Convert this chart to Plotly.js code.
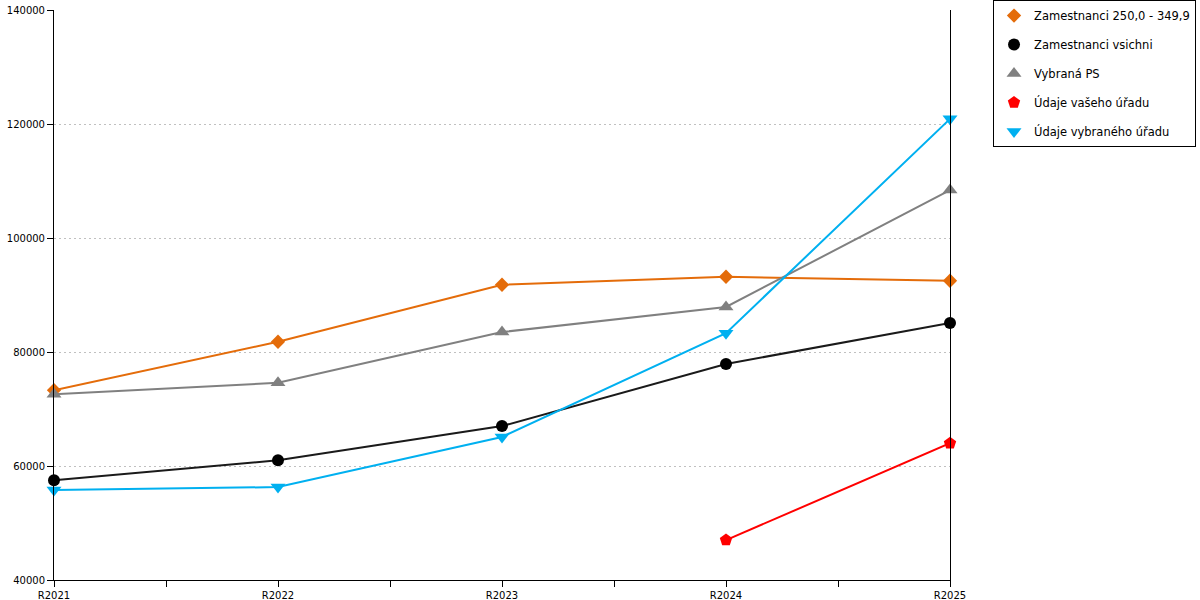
<!DOCTYPE html>
<html>
<head>
<meta charset="utf-8">
<script src="https://cdn.plot.ly/plotly-3.0.1.min.js"></script>
<style>
  html, body { margin: 0; padding: 0; background: #ffffff; }
  #chart { width: 1200px; height: 600px; }
</style>
</head>
<body>
<div id="chart"></div>
<script>
// Chart data
const years = ['R2021', 'R2022', 'R2023', 'R2024', 'R2025'];
const zamestnanci250 = [73300, 81800, 91800, 93200, 92500];
const zamestnanciVsichni = [57500, 61000, 67000, 77900, 85100];
const vybranaPS = [72600, 74600, 83500, 87900, 108400];
const udajeVasehoUradu = [null, null, null, 47000, 64000];
const udajeVybranehoUradu = [55800, 56300, 65100, 83300, 120900];

const yTicks = [40000, 60000, 80000, 100000, 120000, 140000];
const yTickText = ['40000', '60000', '80000', '100000', '120000', '140000'];

const seriesList = [
    { name: 'Zamestnanci 250,0 - 349,9', y: zamestnanci250, color: '#e46c0a', symbol: 'diamond', size: 11 },
    { name: 'Zamestnanci vsichni', y: zamestnanciVsichni, color: '#000000', lineColor: '#1a1a1a', symbol: 'circle', size: 12 },
    { name: 'Vybraná PS', y: vybranaPS, color: '#808080', symbol: 'triangle-up', size: 13 },
    { name: 'Údaje vašeho úřadu', y: udajeVasehoUradu, color: '#ff0000', symbol: 'pentagon', size: 13 },
    { name: 'Údaje vybraného úřadu', y: udajeVybranehoUradu, color: '#00b0f0', symbol: 'triangle-down', size: 13 }
];

const xIdx = years.map((_, i) => i);

// Lines without legend, then marker-only traces for the legend
const traces = [];
seriesList.forEach((s, i) => {
    traces.push({
        x: xIdx, y: s.y, type: 'scatter', mode: 'lines',
        line: { color: s.lineColor || s.color, width: 2 },
        showlegend: false, hoverinfo: 'skip', legendgroup: 'g' + i
    });
});
seriesList.forEach((s, i) => {
    traces.push({
        x: xIdx, y: s.y, type: 'scatter', mode: 'markers', name: s.name,
        marker: { color: s.color, symbol: s.symbol, size: s.size },
        cliponaxis: false,
        legendgroup: 'g' + i
    });
});

// ticks every half category, labels only on categories
const xTickVals = [];
const xTickText = [];
years.forEach((yr, i) => {
    xTickVals.push(i);
    xTickText.push(yr);
    if (i < years.length - 1) {
        xTickVals.push(i + 0.5);
        xTickText.push('');
    }
});

const layout = {
    width: 1200,
    height: 600,
    paper_bgcolor: '#ffffff',
    plot_bgcolor: '#ffffff',
    font: { family: 'DejaVu Sans, sans-serif', size: 10, color: '#000000' },
    margin: { l: 54, r: 250, t: 10, b: 20, pad: 0, autoexpand: false },
    xaxis: {
        range: [0, years.length - 1],
        tickmode: 'array',
        tickvals: xTickVals,
        ticktext: xTickText,
        ticks: 'outside',
        ticklen: 6,
        tickcolor: '#000000',
        showgrid: false,
        zeroline: false,
        showline: true,
        linecolor: '#000000',
        linewidth: 1,
        tickfont: { size: 10 }
    },
    yaxis: {
        range: [40000, 140000],
        tickmode: 'array',
        tickvals: yTicks,
        ticktext: yTickText,
        ticks: 'outside',
        ticklen: 6,
        tickcolor: '#000000',
        showgrid: true,
        gridcolor: '#c0c0c0',
        griddash: '2px,3px',
        gridwidth: 1,
        zeroline: false,
        showline: true,
        mirror: true,
        linecolor: '#000000',
        linewidth: 1,
        tickfont: { size: 10 }
    },
    showlegend: true,
    legend: {
        x: 1.048,
        y: 1.0175,
        xanchor: 'left',
        yanchor: 'top',
        bgcolor: '#ffffff',
        bordercolor: '#000000',
        borderwidth: 1,
        font: { size: 11.5, color: '#000000' },
        tracegroupgap: 10,
        itemwidth: 30
    }
};

Plotly.newPlot('chart', traces, layout, { displayModeBar: false, staticPlot: true });
</script>
</body>
</html>
